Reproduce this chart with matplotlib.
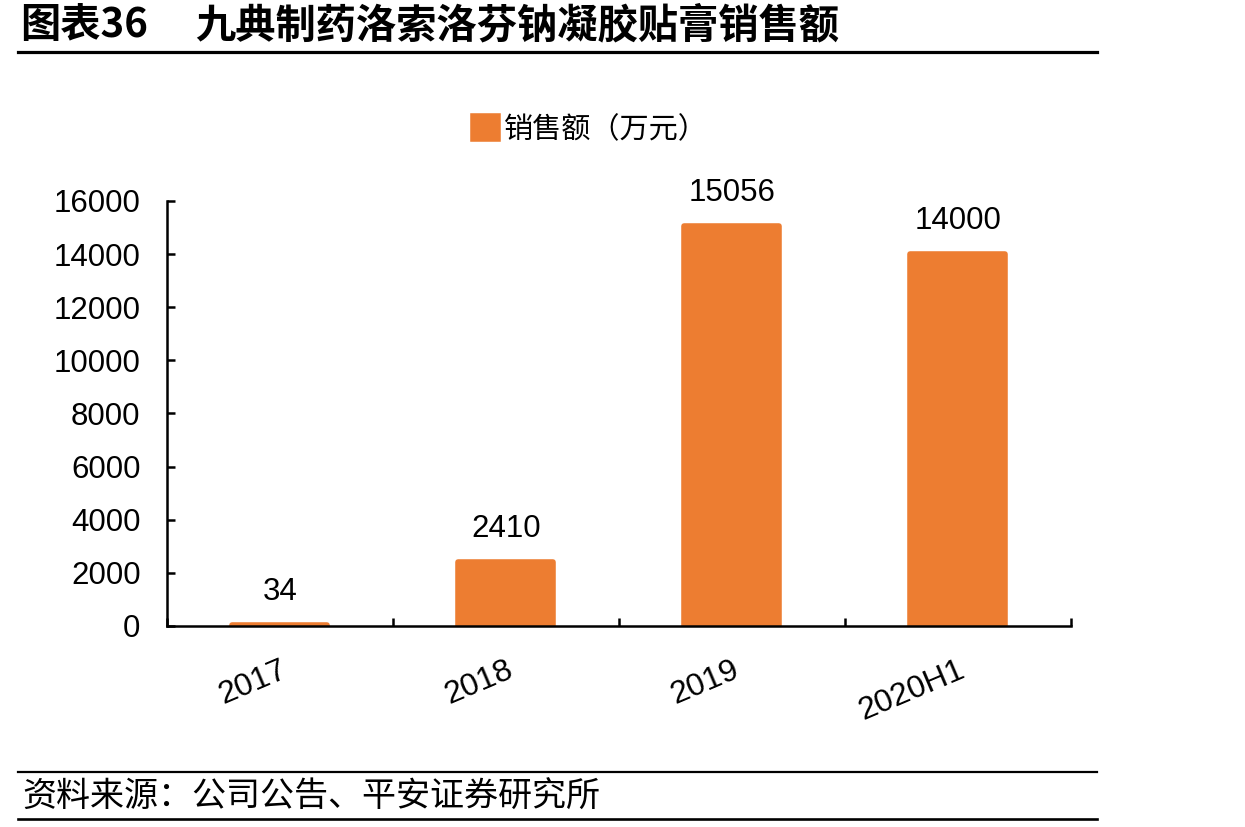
import numpy as np
import matplotlib.pyplot as plt
from matplotlib.lines import Line2D

plt.rcParams['font.family'] = ['Liberation Sans', 'Noto Sans CJK SC', 'DejaVu Sans']

categories = ['2017', '2018', '2019', '2020H1']
sales = [34, 2410, 15056, 14000]  # 销售额（万元）
bar_color = '#ED7D31'

fig = plt.figure(figsize=(12.45, 8.27), dpi=100)
ax = fig.add_axes([0.1341, 0.2431, 0.7261, 0.5139])

x = np.arange(len(categories))
bars = ax.bar(x, sales, width=0.42, color=bar_color, edgecolor=bar_color,
              linewidth=4, joinstyle='round', label='销售额（万元）', zorder=2)

# data labels above bars
for xi, v in zip(x, sales):
    ax.annotate(str(v), (xi, v), xytext=(0, 24), textcoords='offset points',
                ha='center', va='center', fontsize=22.5, color='black')

ax.set_xlim(-0.5, len(categories) - 0.5)
ax.set_ylim(0, 16000)
ax.set_yticks(np.arange(0, 16001, 2000))

# ticks between categories, labels at centers
ax.set_xticks(np.arange(-0.5, len(categories), 1.0))
ax.set_xticklabels([])
ax.set_xticks(x, minor=True)
ax.set_xticklabels(categories, minor=True, rotation=23, ha='right',
                   rotation_mode='anchor', fontsize=23)
ax.tick_params(axis='x', which='minor', length=0, pad=21)
ax.tick_params(axis='x', which='major', direction='in', length=6, width=1.8)
ax.tick_params(axis='y', direction='in', length=6, width=1.8, pad=19, labelsize=22.5)

for s in ['top', 'right']:
    ax.spines[s].set_visible(False)
for s in ['left', 'bottom']:
    ax.spines[s].set_linewidth(1.8)
    ax.spines[s].set_zorder(3)

leg = ax.legend(loc='center', bbox_to_anchor=(0.474, 0.843),
                bbox_transform=fig.transFigure, frameon=False,
                prop={'family': ['Noto Sans CJK SC'], 'size': 21},
                handlelength=0.85, handleheight=0.85, handletextpad=0.2)

# title and rules
fig.text(0.016, 0.969, '图表36', fontsize=29, fontweight='bold',
         family=['Noto Sans CJK SC'], va='center', ha='left')
fig.text(0.157, 0.969, '九典制药洛索洛芬钠凝胶贴膏销售额', fontsize=29,
         fontweight='bold', family=['Noto Sans CJK SC'], va='center', ha='left')
fig.add_artist(Line2D([0.0145, 0.881], [1 - 52 / 827] * 2, color='black', lw=2.3,
                      transform=fig.transFigure))
fig.add_artist(Line2D([0.0145, 0.881], [1 - 772 / 827] * 2, color='black', lw=1.6,
                      transform=fig.transFigure))
fig.add_artist(Line2D([0.0145, 0.881], [1 - 819 / 827] * 2, color='black', lw=1.9,
                      transform=fig.transFigure))
fig.text(0.018, 0.036, '资料来源：公司公告、平安证券研究所', fontsize=24.5,
         family=['Noto Sans CJK SC'], va='center', ha='left', style='italic')

fig.savefig('out.png', dpi=100)
